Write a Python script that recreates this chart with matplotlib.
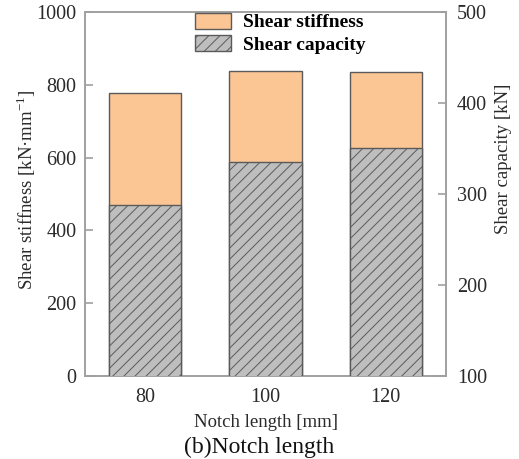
import matplotlib
matplotlib.use("Agg")
import matplotlib.pyplot as plt
from matplotlib.patches import Patch
import numpy as np

categories = ["80", "100", "120"]
shear_stiffness = [778, 839, 835]      # kN/mm (left axis)
shear_capacity = [288, 335, 350]       # kN (right axis)

plt.rcParams['font.family'] = ['Liberation Serif', 'DejaVu Serif']
plt.rcParams['hatch.color'] = '#555555'
plt.rcParams['hatch.linewidth'] = 0.7

W, H = 519, 459
fig = plt.figure(figsize=(W / 100, H / 100), dpi=100)
L, R, T, B = 85, 446, 12, 376
ax = fig.add_axes([L / W, 1 - B / H, (R - L) / W, (B - T) / H])
ax2 = ax.twinx()

x = np.arange(len(categories))
w = 0.6
orange = '#FBC594'
gray = '#BEBEBE'
edge = '#5a5a5a'
txt = '#2a2a2a'

ax.bar(x, shear_stiffness, width=w, color=orange, edgecolor=edge, linewidth=1.0, zorder=2)
ax2.bar(x, shear_capacity, width=w, bottom=0, color=gray, edgecolor=edge,
        linewidth=1.0, hatch='///', zorder=3)

ax.set_xlim(-0.5, 2.5)
ax.set_ylim(0, 1000)
ax2.set_ylim(100, 500)
ax.set_yticks([0, 200, 400, 600, 800, 1000])
ax2.set_yticks([100, 200, 300, 400, 500])
ax.set_xticks(x)
ax.set_xticklabels(categories)

spc = '#a0a0a0'
for a in (ax, ax2):
    for s in a.spines.values():
        s.set_color(spc)
        s.set_linewidth(1.2)
    a.tick_params(axis='both', direction='in', colors=spc, labelcolor=txt,
                  labelsize=14.5, length=5.5, width=1.2)
ax.tick_params(axis='x', length=0, pad=9)
ax.tick_params(axis='y', pad=6)
ax2.tick_params(axis='y', pad=8)

ax.set_ylabel('Shear stiffness [kN·mm$^{\\mathregular{-1}}$]', fontsize=13.5, color=txt)
ax.yaxis.set_label_coords((38 - L) / (R - L), (B - 190) / (B - T))
ax2.set_ylabel('Shear capacity [kN]', fontsize=13.5, color=txt)
ax2.yaxis.set_label_coords((495 - L) / (R - L), (B - 159) / (B - T))
ax.set_xlabel('Notch length [mm]', fontsize=13.5, color=txt, labelpad=5)

handles = [Patch(facecolor=orange, edgecolor=edge, label='Shear stiffness'),
           Patch(facecolor=gray, edgecolor=edge, hatch='///', label='Shear capacity')]
ax2.legend(handles=handles, loc='upper left', bbox_to_anchor=(195 / W, 1 - 13 / H),
           bbox_transform=fig.transFigure, frameon=False,
           prop={'weight': 'bold', 'size': 14}, handlelength=1.85, handleheight=0.85,
           labelspacing=0.2, borderaxespad=0, borderpad=0, handletextpad=0.6)

fig.text(0.5, 6 / H, '(b)Notch length', ha='center', va='baseline', fontsize=17, color='#111111')

fig.savefig('out.png', dpi=100)
